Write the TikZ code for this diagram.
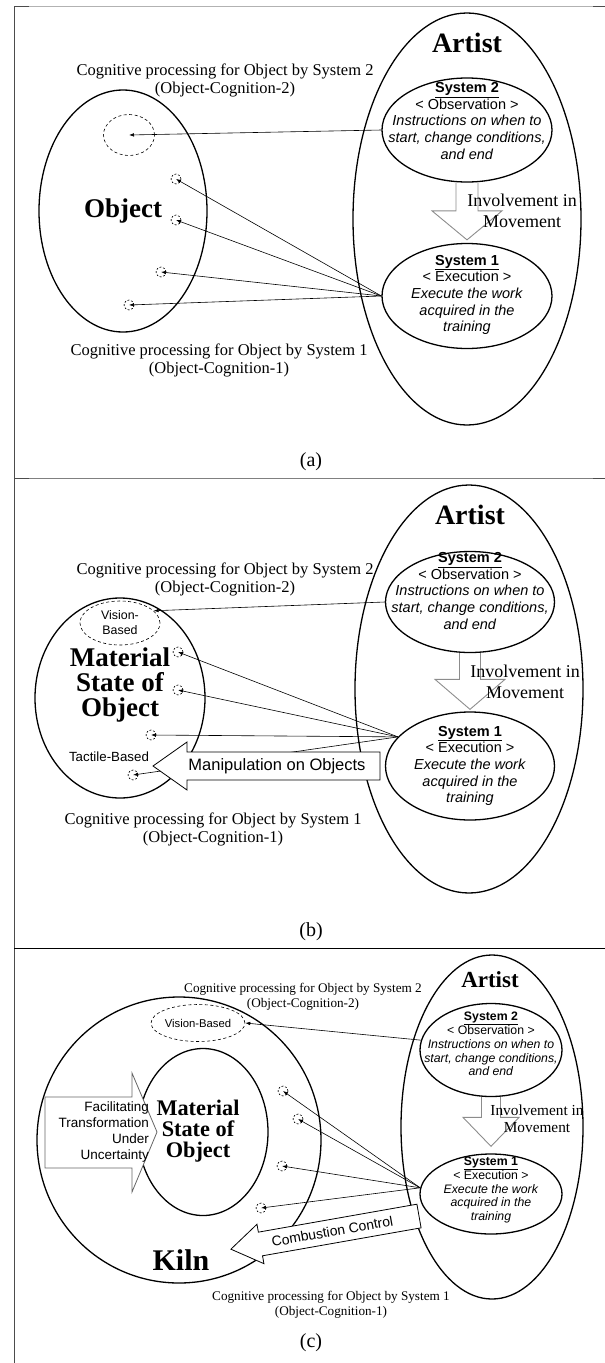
\documentclass[tikz,border=0pt]{standalone}
\usepackage{fontspec}
\setmainfont{Liberation Serif}
\setsansfont{Liberation Sans}
\usetikzlibrary{positioning, arrows.meta, shapes.geometric, calc}

\begin{document}
\begin{tikzpicture}[
        x=1pt, y=-1pt,
        panelline/.style={line width=0.8pt, black!70},
        bigell/.style={ellipse, draw, line width=1.3pt, inner sep=0pt},
        sysell/.style={ellipse, draw, line width=1.3pt, inner sep=0pt},
        systext/.style={font=\sffamily\fontsize{14.5}{16.7}\selectfont, align=center, inner sep=0pt},
        heading/.style={font=\bfseries\fontsize{28}{30}\selectfont, inner sep=0pt},
        cogtext/.style={font=\fontsize{16.5}{18}\selectfont, align=center, inner sep=0pt},
        movetext/.style={font=\fontsize{18}{21}\selectfont, align=center, inner sep=0pt},
        ear/.style={circle, draw, dash pattern=on 2pt off 1.6pt, line width=0.6pt, minimum size=10pt, inner sep=0pt},
        zone/.style={ellipse, draw, dash pattern=on 3pt off 2.5pt, line width=0.6pt, inner sep=0pt},
        arrow/.style={line width=0.6pt, -{Latex[length=5pt, width=3.6pt]}},
        hollow/.style={draw=black!45, line width=0.9pt},
        block/.style={draw, fill=white, line width=0.8pt}
    ]
    \useasboundingbox (0,0) rectangle (605,1363);
    \draw[black!30, line width=0.8pt] (14,6) -- (605,6);
    \draw[panelline] (14,6) -- (29,6) (593,6) -- (605,6);
    \draw[panelline] (14,6) -- (14,1363);
    \draw[black!50, line width=0.8pt] (14,478) -- (605,478);
    \draw[panelline] (14,478) -- (29,478) (593,478) -- (605,478);
    \draw[black, line width=0.8pt] (14,948) -- (605,948);

    \node[bigell, minimum width=228pt, minimum height=412pt] (artista) at (467,219) {};
    \node[heading] (artistlabela) at (467,43) {Artist};
    \node[sysell, minimum width=170pt, minimum height=104pt] (systwoa) at (467,130) {};
    \node[systext] (obsa) at (467,121) {\textbf{\underline{System 2}}\\< Observation >\\\textit{Instructions on when to}\\\textit{start, change conditions,}\\\textit{and end}};
    \node[sysell, minimum width=170pt, minimum height=105pt] (sysonea) at (467,296) {};
    \node[systext] (exea) at (467,295) {\textbf{\underline{System 1}}\\< Execution >\\\textit{Execute the work}\\\textit{acquired in the}\\\textit{training}};
    \draw[hollow] ($(systwoa.south)+(-11,0)$) -- ($(sysonea.north)+(-11,-32)$) -- ($(sysonea.north)+(-35,-32)$) -- ($(sysonea.north)+(0,-3)$) -- ($(sysonea.north)+(35,-32)$) -- ($(sysonea.north)+(11,-32)$) -- ($(systwoa.south)+(11,0)$);
    \node[movetext] (movea) at (522,211) {Involvement in\\Movement};
    \node[bigell, minimum width=168pt, minimum height=242pt, font=\bfseries\fontsize{27}{29}\selectfont] (objecta) at (123,211) {Object};
    \node[zone, minimum width=51pt, minimum height=41pt] (visiona) at (129,135) {};
    \node[ear] (eara1) at (176,179) {};
    \node[ear] (eara2) at (176,220) {};
    \node[ear] (eara3) at (161,272) {};
    \node[ear] (eara4) at (129,305) {};
    \draw[arrow] (systwoa.west) -- (visiona.center);
    \draw[arrow] (sysonea.west) -- (eara1.center);
    \draw[arrow] (sysonea.west) -- (eara2.center);
    \draw[arrow] (sysonea.west) -- (eara3.center);
    \draw[arrow] (sysonea.west) -- (eara4.center);
    \node[cogtext] (cogtwoa) at (225,80) {Cognitive processing for Object by System 2\\(Object-Cognition-2)};
    \node[cogtext] (cogonea) at (219,360) {Cognitive processing for Object by System 1\\(Object-Cognition-1)};
    \node[font=\fontsize{20}{22}\selectfont, inner sep=0pt] (taga) at (311,462) {(a)};

    \node[bigell, minimum width=228pt, minimum height=408pt] (artistb) at (469,689) {};
    \node[heading] (artistlabelb) at (470,515) {Artist};
    \node[sysell, minimum width=169pt, minimum height=101pt] (systwob) at (470,602) {};
    \node[systext] (obsb) at (470,591) {\textbf{\underline{System 2}}\\< Observation >\\\textit{Instructions on when to}\\\textit{start, change conditions,}\\\textit{and end}};
    \node[sysell, minimum width=169pt, minimum height=108pt] (sysoneb) at (470,766) {};
    \node[systext] (exeb) at (470,766) {\textbf{\underline{System 1}}\\< Execution >\\\textit{Execute the work}\\\textit{acquired in the}\\\textit{training}};
    \draw[hollow] ($(systwob.south)+(-10.5,0)$) -- ($(sysoneb.north)+(-10.5,-32)$) -- ($(sysoneb.north)+(-35,-32)$) -- ($(sysoneb.north)+(0,-2)$) -- ($(sysoneb.north)+(35,-32)$) -- ($(sysoneb.north)+(10.5,-32)$) -- ($(systwob.south)+(10.5,0)$);
    \node[movetext] (moveb) at (525,682) {Involvement in\\Movement};
    \node[bigell, minimum width=170pt, minimum height=200pt] (materialb) at (120,698) {};
    \node[font=\bfseries\fontsize{27}{25}\selectfont, align=center, inner sep=0pt] (materiallabelb) at (120,685) {Material\\State of\\Object};
    \node[zone, minimum width=80pt, minimum height=44pt, font=\sffamily\fontsize{12.4}{15}\selectfont, align=center] (visionb) at (120,623) {Vision-\\Based};
    \node[ear] (earb1) at (178,652) {};
    \node[ear] (earb2) at (178,690) {};
    \node[ear] (earb3) at (151,735) {};
    \node[ear] (earb4) at (133,775) {};
    \node[font=\sffamily\fontsize{13.3}{15}\selectfont, inner sep=0pt] (tactileb) at (109,757) {Tactile-Based};
    \draw[arrow] (systwob.west) -- (visionb.20);
    \draw[arrow] (sysoneb.158) -- (earb1.center);
    \draw[arrow] (sysoneb.158) -- (earb2.center);
    \draw[arrow] (sysoneb.158) -- (earb3.center);
    \draw[arrow] (sysoneb.158) -- (earb4.center);
    \draw[block] (380,752) -- (187,752) -- (187,742) -- (153,766) -- (187,790) -- (187,780) -- (380,780) -- cycle;
    \node[font=\sffamily\fontsize{16.5}{18}\selectfont, inner sep=0pt] (manipb) at (277,766) {Manipulation on Objects};
    \node[cogtext] (cogtwob) at (225,579) {Cognitive processing for Object by System 2\\(Object-Cognition-2)};
    \node[cogtext] (cogoneb) at (213,829) {Cognitive processing for Object by System 1\\(Object-Cognition-1)};
    \node[font=\fontsize{20}{22}\selectfont, inner sep=0pt] (tagb) at (311,932) {(b)};

    \node[bigell, minimum width=182pt, minimum height=344pt] (artistc) at (492,1127) {};
    \node[heading, font=\bfseries\fontsize{23}{25}\selectfont] (artistlabelc) at (490,980) {Artist};
    \node[sysell, minimum width=142pt, minimum height=93pt] (systwoc) at (491,1050) {};
    \node[systext, font=\sffamily\fontsize{12.3}{13.8}\selectfont] (obsc) at (491,1044) {\textbf{\underline{System 2}}\\< Observation >\\\textit{Instructions on when to}\\\textit{start, change conditions,}\\\textit{and end}};
    \node[sysell, minimum width=142pt, minimum height=80pt] (sysonec) at (491,1194) {};
    \node[systext, font=\sffamily\fontsize{12.3}{13.8}\selectfont] (exec) at (491,1190) {\textbf{\underline{System 1}}\\< Execution >\\\textit{Execute the work}\\\textit{acquired in the}\\\textit{training}};
    \draw[hollow] ($(systwoc.south)+(-9.5,0)$) -- ($(sysonec.north)+(-9.5,-36)$) -- ($(sysonec.north)+(-28,-36)$) -- ($(sysonec.north)+(0,-7)$) -- ($(sysonec.north)+(28,-36)$) -- ($(sysonec.north)+(9.5,-36)$) -- ($(systwoc.south)+(9.5,0)$);
    \node[movetext, font=\fontsize{15.3}{17}\selectfont] (movec) at (537,1119) {Involvement in\\Movement};
    \node[bigell, minimum width=284pt, minimum height=286pt] (kilnc) at (179,1140) {};
    \node[font=\bfseries\fontsize{30}{32}\selectfont, inner sep=0pt] (kilnlabelc) at (181,1260) {Kiln};
    \node[bigell, minimum width=130pt, minimum height=167pt] (materialc) at (203,1132) {};
    \node[font=\bfseries\fontsize{22.3}{21}\selectfont, align=center, inner sep=0pt] (materiallabelc) at (198,1131) {Material\\State of\\Object};
    \node[zone, minimum width=91pt, minimum height=37pt, font=\sffamily\fontsize{11.3}{13}\selectfont] (visionc) at (198,1023) {Vision-Based};
    \node[ear] (earc1) at (283,1091) {};
    \node[ear] (earc2) at (298,1119) {};
    \node[ear] (earc3) at (282,1166) {};
    \node[ear] (earc4) at (261,1208) {};
    \draw[arrow] (systwoc.172) -- (visionc.east);
    \draw[arrow] (sysonec.175) -- (earc1.center);
    \draw[arrow] (sysonec.175) -- (earc2.center);
    \draw[arrow] (sysonec.175) -- (earc3.center);
    \draw[arrow] (sysonec.175) -- (earc4.center);
    \draw[block, draw=black!60] (45,1097) -- (132,1097) -- (132,1073) -- (157,1132) -- (132,1192) -- (132,1168) -- (45,1168) -- cycle;
    \node[font=\sffamily\fontsize{13.5}{16.3}\selectfont, align=right, inner sep=0pt, anchor=east] (facilc) at (149,1132) {Facilitating\\Transformation\\Under\\Uncertainty};
    \begin{scope}[shift={(419,1216)}, rotate=10]
        \draw[block] (0,-12) -- (-161,-12) -- (-161,-20) -- (-191,0) -- (-161,20) -- (-161,12) -- (0,12) -- cycle;
        \node[font=\sffamily\fontsize{13.9}{15}\selectfont, rotate=10, inner sep=0pt] (combustc) at (-88,0) {Combustion Control};
    \end{scope}
    \node[cogtext, font=\fontsize{13.2}{15}\selectfont] (cogtwoc) at (303,997) {Cognitive processing for Object by System 2\\(Object-Cognition-2)};
    \node[cogtext, font=\fontsize{13.2}{15}\selectfont] (cogonec) at (331,1305) {Cognitive processing for Object by System 1\\(Object-Cognition-1)};
    \node[font=\fontsize{20}{22}\selectfont, inner sep=0pt] (tagc) at (311,1343) {(c)};
\end{tikzpicture}
\end{document}
